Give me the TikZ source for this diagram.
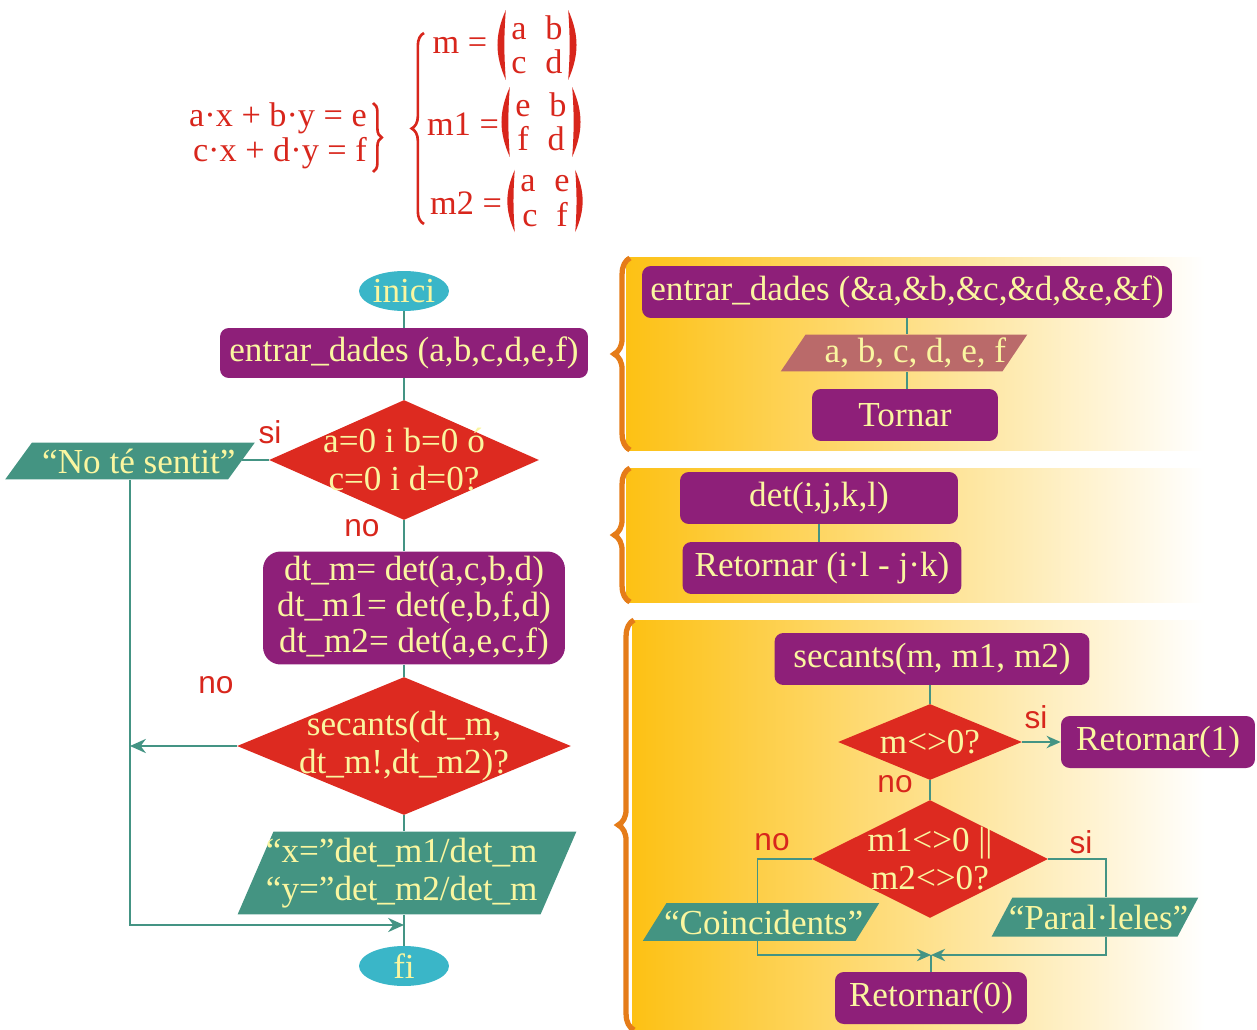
\documentclass[tikz,border=0pt]{standalone}
\usepackage{fontspec}
\setmainfont{Liberation Serif}
\newfontfamily\lblfont{Liberation Sans}
\usetikzlibrary{shapes.geometric, arrows.meta, decorations.pathreplacing}
\definecolor{procpurple}{HTML}{8E1F79}
\definecolor{decred}{HTML}{DD2A20}
\definecolor{ioteal}{HTML}{449482}
\definecolor{iopink}{HTML}{BA6A6A}
\definecolor{termcyan}{HTML}{3AB6C8}
\definecolor{lineteal}{HTML}{449484}
\definecolor{txtyellow}{HTML}{FAF6A0}
\definecolor{redtxt}{HTML}{D8261C}
\definecolor{braceorange}{HTML}{E57C19}
\definecolor{bandyellow}{HTML}{FDC114}
\definecolor{bandpale}{HTML}{F9E39A}

\begin{document}
\begin{tikzpicture}[x=0.02cm, y=0.02cm,
    proc/.style  = {rectangle, rounded corners=5pt, fill=procpurple, text=txtyellow,
                    font=\fontsize{20}{20.5}\selectfont, align=center, inner sep=0pt,
                    minimum height=1.04cm},
    term/.style  = {ellipse, fill=termcyan, text=txtyellow, font=\fontsize{20}{22}\selectfont,
                    inner sep=0pt, minimum width=1.8cm, minimum height=0.8cm},
    dec/.style   = {diamond, fill=decred, inner sep=0pt},
    io/.style    = {trapezium, trapezium left angle=#1, trapezium right angle=180-#1,
                    fill=ioteal},
    intxt/.style = {text=txtyellow, font=\fontsize{20}{21.6}\selectfont, align=center},
    yn/.style    = {text=redtxt, font=\lblfont\fontsize{18}{18}\selectfont},
    frm/.style   = {text=redtxt, font=\fontsize{19.5}{19.6}\selectfont, inner sep=3pt},
    dbar/.style  = {fill=redtxt},
    conn/.style  = {draw=lineteal, line width=1.6pt},
    arr/.style   = {conn, -{Stealth[length=9pt, width=8pt]}},
    rconn/.style = {draw=lineteal, line width=1.1pt},
    rarr/.style  = {rconn, -{Stealth[length=8pt, width=7pt]}},
    band/.style  = {left color=bandyellow, middle color=bandpale, right color=white},
    brc/.style   = {decorate, decoration={brace, amplitude=9pt}, draw=braceorange,
                    line width=3pt},
    fbrc/.style  = {decorate, decoration={brace, amplitude=#1}, draw=redtxt, line width=1.5pt}
  ]
  \useasboundingbox (0,0) rectangle (1257,-1030);

  % ── Equations and determinants ─────────────────────────────────────────
  \node[frm, align=right] (eqs) at (278,-136) {a·x + b·y = e\\c·x + d·y = f};
  \draw[fbrc=5pt] (373,-103) -- (373,-172);
  \draw[fbrc=7pt] (424,-224) -- (424,-33);

  \node[frm] (mlbl0) at (460,-45)  {m =};
  \node[frm] (mlbl1) at (463,-124) {m1 =};
  \node[frm] (mlbl2) at (466,-203) {m2 =};
  \node[frm, align=center] (mat0) at (537,-45)  {a\hspace{0.55em}b\\c\hspace{0.55em}d};
  \node[frm, align=center] (mat1) at (541,-122) {e\hspace{0.55em}b\\f\hspace{0.55em}d};
  \node[frm, align=center] (mat2) at (545,-201) {a\hspace{0.55em}e\\c\hspace{0.55em}f};
  \foreach \m in {mat0, mat1, mat2} {
    \fill[dbar] (\m.north west) to[bend right=24] (\m.south west)
                to[bend left=4] (\m.north west);
    \fill[dbar] (\m.north east) to[bend left=24] (\m.south east)
                to[bend right=4] (\m.north east);
  }

  % ── Main flow ──────────────────────────────────────────────────────────
  \node[term] (inici) at (404,-291) {inici};
  \node[proc, minimum width=7.36cm, minimum height=1cm] (ent) at (404,-353)
       {entrar\_dades (a,b,c,d,e,f)};
  \node[dec, minimum width=5.4cm, minimum height=2.4cm,
        label={[intxt]center:{a=0 i b=0 ó\\c=0 i d=0?}}] (d1) at (404,-460) {};
  \node[io=54, inner xsep=55.8pt, inner ysep=10.5pt,
        label={[intxt, xshift=5pt]center:{“No té sentit”}}] (nts) at (130,-461) {};
  \node[proc, rounded corners=10pt, minimum width=6.04cm, minimum height=2.26cm] (calc)
       at (414,-608) {dt\_m= det(a,c,b,d)\\dt\_m1= det(e,b,f,d)\\dt\_m2= det(a,e,c,f)};
  \node[dec, minimum width=6.68cm, minimum height=2.76cm,
        label={[intxt]center:{secants(dt\_m,\\dt\_m!,dt\_m2)?}}] (d2) at (404,-746) {};
  \node[io=66.6, inner xsep=76pt, inner ysep=23.6pt,
        label={[intxt, xshift=-3pt]center:{“x=”det\_m1/det\_m\\“y=”det\_m2/det\_m}}]
       (out) at (407,-873) {};
  \node[term] (fi) at (404,-966) {fi};
  \coordinate (join) at (404,-925);

  \node[yn] (si1) at (270,-432) {si};
  \node[yn] (no1) at (362,-528) {no};
  \node[yn] (no2) at (216,-685) {no};

  \draw[conn] (inici) -- (ent);
  \draw[conn] (ent) -- (d1);
  \draw[conn] (d1.west) -- (d1.west -| nts.east);
  \draw[conn] (d1.south) -- (d1.south |- calc.north);
  \draw[conn] (d2.north |- calc.south) -- (d2.north);
  \draw[arr]  (d2.west) -- (d2.west -| nts.south);
  \draw[conn] (d2.south) -- (d2.south |- out.north);
  \draw[conn] (fi.north |- out.south) -- (fi.north);
  \draw[arr]  (nts.south) |- (join);

  % ── Panels ─────────────────────────────────────────────────────────────
  \shade[band] (626,-258) rectangle (1205,-450);
  \shade[band] (626,-468) rectangle (1205,-602);
  \shade[band] (632,-620) rectangle (1205,-1030);
  \draw[brc] (630,-450) -- (630,-258);
  \draw[brc] (630,-602) -- (630,-468);
  \draw[brc] (634,-1030) -- (634,-620);

  % ── entrar_dades ───────────────────────────────────────────────────────
  \node[proc, minimum width=10.6cm] (ent2) at (907,-292)
       {entrar\_dades (\&a,\&b,\&c,\&d,\&e,\&f)};
  \node[io=56, fill=iopink, inner xsep=56pt, inner ysep=10.5pt,
        label={[intxt, xshift=6.5pt]center:{a, b, c, d, e, f}}] (abc) at (904,-353) {};
  \node[proc, minimum width=3.72cm] (torn) at (905,-415) {Tornar};
  \draw[rconn] (ent2.south) -- (ent2.south |- abc.north);
  \draw[rconn] (ent2.south |- abc.south) -- (ent2.south |- torn.north);

  % ── det ────────────────────────────────────────────────────────────────
  \node[proc, minimum width=5.56cm] (det) at (819,-498) {det(i,j,k,l)};
  \node[proc, minimum width=5.58cm] (ret) at (822,-568) {Retornar (i·l - j·k)};
  \draw[rconn] (det.south) -- (det.south |- ret.north);

  % ── secants ────────────────────────────────────────────────────────────
  \node[proc, minimum width=6.3cm] (sec) at (932,-659) {secants(m, m1, m2)};
  \node[dec, minimum width=3.68cm, minimum height=1.52cm,
        label={[intxt]center:{m<>0?}}] (dm) at (930,-742) {};
  \node[proc, minimum width=3.88cm] (ret1) at (1158,-742) {Retornar(1)};
  \node[dec, minimum width=4.72cm, minimum height=2.36cm,
        label={[intxt]center:{m1<>0 ||\\m2<>0?}}] (dm2) at (930,-859) {};
  \node[io=58, inner xsep=53.8pt, inner ysep=10.8pt,
        label={[intxt, xshift=1.5pt]center:{“Coincidents”}}] (coin) at (761,-922) {};
  \node[io=62, inner xsep=47pt, inner ysep=11.1pt,
        label={[intxt, xshift=2pt]center:{“Paral·leles”}}] (par) at (1095,-917) {};
  \node[proc, minimum width=3.84cm] (ret0) at (931,-998) {Retornar(0)};
  \coordinate (mrg) at (931,-955);

  \node[yn] (si2) at (1036,-717) {si};
  \node[yn] (no3) at (895,-784)  {no};
  \node[yn] (no4) at (772,-842)  {no};
  \node[yn] (si3) at (1081,-842) {si};

  \draw[rconn] (dm.north |- sec.south) -- (dm.north);
  \draw[rarr]  (dm.east) -- (ret1.west);
  \draw[rconn] (dm.south) -- (dm2.north);
  \draw[rconn] (dm2.west) -| ([xshift=-2pt]coin.north);
  \draw[rconn] (dm2.east) -| ([xshift=6pt]par.north);
  \draw[rarr]  ([xshift=-2pt]coin.south) |- (mrg);
  \draw[rarr]  ([xshift=6pt]par.south) |- (mrg);
  \draw[rconn] (mrg) -- (mrg |- ret0.north);
\end{tikzpicture}
\end{document}
